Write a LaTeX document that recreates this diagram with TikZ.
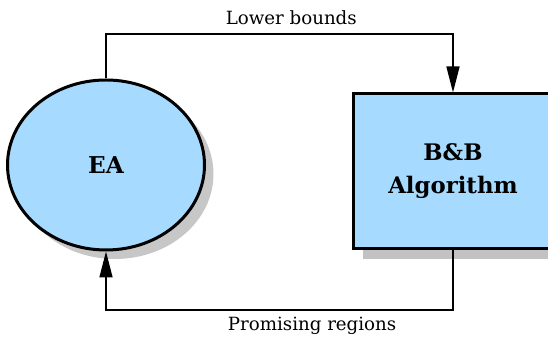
\documentclass[tikz,border=0pt]{standalone}
\usepackage{fontspec}
\setmainfont{DejaVu Serif}
\usepackage{tikz}
\usetikzlibrary{arrows.meta,shapes.geometric,shadows}
\definecolor{fillblue}{RGB}{166,218,255}

\begin{document}
\begin{tikzpicture}[
x=0.5pt, y=0.5pt,
font=\fontsize{9.1}{11}\selectfont,
oval/.style={ellipse, draw, line width=1.5pt, fill=fillblue, minimum width=98.5pt, minimum height=85pt, font=\fontsize{11.6}{16.5}\selectfont\bfseries,
  drop shadow={shadow xshift=4.5pt, shadow yshift=-4.5pt, fill=black!22, opacity=1}},
box/.style={rectangle, draw, line width=1.5pt, fill=fillblue, align=center, minimum width=99pt, minimum height=77.5pt, font=\fontsize{11.4}{16.5}\selectfont\bfseries,
  drop shadow={shadow xshift=4.5pt, shadow yshift=-5pt, fill=black!24, opacity=1}},
arrow/.style={-{Triangle[length=13pt, width=6.5pt]}, line width=0.75pt}
]
\useasboundingbox (0,0) rectangle (548,341);
\node[oval] (ea) at (106,176) {EA};
\node[box] (bb) at (453,169.5) {B\&B\\Algorithm};
\draw[arrow] (ea.north) -- (ea.north |- 0,307) -| node[above, pos=0.267, yshift=1pt] {Lower bounds} (bb.north);
\draw[arrow] (bb.south) -- (bb.south |- 0,31) -| node[below, pos=0.203] {Promising regions} (ea.south);
\end{tikzpicture}
\end{document}
